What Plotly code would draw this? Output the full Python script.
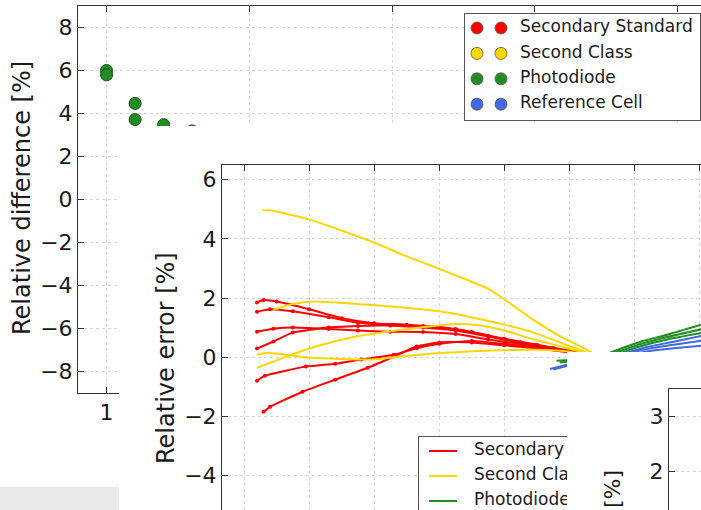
import plotly.graph_objects as go

W, H = 701, 510
FONT = "DejaVu Sans"
INK = "#1a1a1a"
AXIS = "#333333"
GRID = "#d6d6d6"


def fx(px):
    return px / W


def fy(py):
    return 1 - py / H


# ---------------- data ----------------
series_names = ["Secondary Standard", "Second Class", "Photodiode", "Reference Cell"]
series_colors = ["#ff0000", "#ffd700", "#228b22", "#4169e1"]

# relative difference of the photodiode readings
diff_x = [1.0, 1.0, 1.2, 1.2, 1.4, 1.6]
diff_y = [6.0, 5.8, 4.47, 3.72, 3.48, 3.19]

# relative error curves, secondary standard instruments
secondary_x = [
    [0.2, 0.3, 0.5, 1.0, 1.5, 2.0, 2.5, 3.0, 3.5, 4.0, 4.5, 5.0, 5.45],
    [0.2, 0.4, 0.75, 1.3, 1.75, 2.25, 2.75, 3.25, 3.75, 4.25, 4.75, 5.45],
    [0.2, 0.45, 0.75, 1.3, 1.75, 2.25, 2.75, 3.25, 3.75, 4.25, 4.75, 5.45],
    [0.2, 0.45, 0.75, 1.3, 1.75, 2.25, 2.75, 3.25, 3.75, 4.25, 4.75, 5.45],
    [0.2, 0.32, 0.95, 1.4, 1.8, 2.3, 2.65, 3.0, 3.5, 4.0, 4.5, 5.0, 5.45],
    [0.3, 0.4, 0.9, 1.4, 1.9, 2.3, 2.65, 3.0, 3.5, 4.0, 4.5, 5.0, 5.45],
]
secondary_y = [
    [1.85, 1.93, 1.88, 1.62, 1.32, 1.15, 1.10, 1.0, 0.85, 0.62, 0.42, 0.22, 0.0],
    [1.54, 1.62, 1.55, 1.35, 1.17, 1.07, 1.0, 0.9, 0.7, 0.5, 0.3, 0.0],
    [0.86, 0.96, 1.0, 0.95, 0.9, 0.86, 0.85, 0.78, 0.6, 0.45, 0.28, 0.0],
    [0.29, 0.53, 0.83, 1.0, 1.05, 1.08, 1.05, 0.95, 0.72, 0.5, 0.3, 0.0],
    [-0.8, -0.63, -0.32, -0.22, -0.08, 0.08, 0.3, 0.45, 0.55, 0.45, 0.33, 0.2, 0.0],
    [-1.85, -1.68, -1.17, -0.76, -0.36, 0.02, 0.36, 0.5, 0.5, 0.4, 0.3, 0.15, 0.0],
]

# second class instruments
second_x = [
    [0.28, 0.4, 1.0, 2.0, 2.45, 3.1, 3.77, 4.44, 4.86, 5.27, 5.45],
    [0.45, 0.75, 1.1, 1.85, 2.6, 3.0, 3.45, 4.0, 4.45, 4.95, 5.45],
    [0.2, 0.65, 1.1, 1.7, 2.25, 2.7, 3.25, 3.6, 3.95, 4.45, 4.95, 5.45],
    [0.2, 0.35, 0.95, 1.5, 2.0, 2.4, 2.9, 3.45, 4.45, 4.95, 5.45],
]
second_y = [
    [4.97, 4.97, 4.66, 3.88, 3.45, 2.9, 2.29, 1.27, 0.7, 0.25, 0.0],
    [1.6, 1.8, 1.88, 1.78, 1.65, 1.55, 1.37, 1.1, 0.83, 0.42, 0.0],
    [-0.36, 0.02, 0.36, 0.69, 0.88, 1.0, 1.12, 1.08, 0.93, 0.6, 0.32, 0.0],
    [0.08, 0.15, 0.0, -0.06, -0.08, 0.02, 0.12, 0.19, 0.25, 0.2, 0.0],
]

# photodiodes
photodiode_x = [
    [4.8, 5.45, 5.67, 6.1, 6.5, 7.1],
    [4.85, 5.45, 5.7, 6.1, 6.5, 7.1],
    [4.9, 5.45, 5.75, 6.1, 6.5, 7.1],
]
photodiode_y = [
    [-0.12, 0.0, 0.19, 0.53, 0.76, 1.15],
    [-0.18, 0.0, 0.15, 0.45, 0.68, 0.98],
    [-0.15, 0.0, 0.12, 0.38, 0.6, 0.85],
]

# reference cells
refcell_x = [
    [4.7, 5.45, 5.8, 6.2, 6.6, 7.1],
    [4.75, 5.45, 5.8, 6.2, 6.6, 7.1],
    [4.8, 5.45, 5.85, 6.2, 6.6, 7.1],
]
refcell_y = [
    [-0.4, 0.0, 0.1, 0.35, 0.52, 0.75],
    [-0.42, 0.0, 0.08, 0.28, 0.42, 0.58],
    [-0.38, 0.0, 0.05, 0.2, 0.3, 0.4],
]

diff_ticks = [-8, -6, -4, -2, 0, 2, 4, 6, 8]
error_ticks = [-4, -2, 0, 2, 4, 6]
inset_ticks = [2, 3]

# ---------------- figure ----------------
fig = go.Figure()


def empty(ax):
    fig.add_trace(go.Scatter(x=[], y=[], xaxis="x" + ax, yaxis="y" + ax,
                             showlegend=False, hoverinfo="skip"))


# 1: page base
empty("")

# 2: relative difference panel
fig.add_trace(go.Scatter(
    x=diff_x, y=diff_y, mode="markers", xaxis="x2", yaxis="y2", showlegend=False,
    marker=dict(size=12, color=series_colors[2], line=dict(color="#145214", width=1)),
))

# 3: legend box of the relative difference panel (two markers per entry)
row_h = 25.4
for i, (name, col) in enumerate(zip(series_names, series_colors)):
    ry = 14 + row_h * i
    fig.add_trace(go.Scatter(
        x=[12, 36], y=[ry, ry], mode="markers", xaxis="x3", yaxis="y3", showlegend=False,
        marker=dict(size=12, color=col, line=dict(color="#555555", width=0.8)),
    ))
    fig.add_trace(go.Scatter(
        x=[55], y=[ry], mode="text", text=[name], textposition="middle right",
        textfont=dict(family=FONT, size=17, color=INK),
        xaxis="x3", yaxis="y3", showlegend=False,
    ))

# 4: sheet carrying the relative error panel
empty("4")

# 5: relative error panel
groups = [
    (secondary_x, secondary_y, series_colors[0], True),
    (second_x, second_y, series_colors[1], False),
    (photodiode_x, photodiode_y, series_colors[2], False),
    (refcell_x, refcell_y, series_colors[3], False),
]
for xs, ys, col, dots in groups:
    for cx, cy in zip(xs, ys):
        fig.add_trace(go.Scatter(
            x=cx, y=cy, mode="lines+markers" if dots else "lines",
            xaxis="x5", yaxis="y5", showlegend=False,
            line=dict(color=col, width=2, shape="spline", smoothing=0.5),
            marker=dict(size=4, color=col),
        ))

# 6: legend box of the relative error panel (only the rows that fit the box)
legend2_rows = 3
for i, (name, col) in enumerate(zip(series_names[:legend2_rows],
                                    series_colors[:legend2_rows])):
    ry = 14 + 25 * i
    fig.add_trace(go.Scatter(
        x=[10, 38], y=[ry, ry], mode="lines", xaxis="x6", yaxis="y6", showlegend=False,
        line=dict(color=col, width=2),
    ))
    fig.add_trace(go.Scatter(
        x=[55], y=[ry], mode="text", text=[name], textposition="middle right",
        textfont=dict(family=FONT, size=17, color=INK),
        xaxis="x6", yaxis="y6", showlegend=False,
    ))

# 7: sheet carrying the inset panel
empty("7")

# 8: inset panel
empty("8")

hidden = dict(visible=False, range=[0, 1], fixedrange=True)
tickfont = dict(family=FONT, size=22, color=INK)
common = dict(showline=True, linecolor=AXIS, linewidth=1, ticks="inside", ticklen=6,
              tickcolor=AXIS, zeroline=False, gridcolor=GRID, griddash="dot",
              gridwidth=1, tickfont=tickfont)

fig.update_layout(
    width=W, height=H, margin=dict(l=0, r=0, t=0, b=0),
    paper_bgcolor="white", plot_bgcolor="white", showlegend=False,
    font=dict(family=FONT, color=INK),
    xaxis=dict(domain=[0, 1], **hidden),
    yaxis=dict(domain=[0, 1], **hidden),
    # relative difference panel
    xaxis2=dict(domain=[fx(78), 1], range=[0.8, 0.8 + 623 / 142.75], anchor="y2",
                tickvals=[1, 2, 3, 4, 5], mirror="ticks", showgrid=True, **common),
    yaxis2=dict(domain=[fy(393), fy(6)], range=[-9, 9], anchor="x2",
                tickvals=diff_ticks, mirror=False, showgrid=True, **common),
    # legend box
    xaxis3=dict(domain=[fx(465), fx(700)], range=[0, 235], anchor="y3", showline=True,
                mirror=True, linecolor="#555555", linewidth=1, showgrid=False,
                zeroline=False, showticklabels=False, ticks="", fixedrange=True),
    yaxis3=dict(domain=[fy(120), fy(14)], range=[106, 0], anchor="x3", showline=True,
                mirror=True, linecolor="#555555", linewidth=1, showgrid=False,
                zeroline=False, showticklabels=False, ticks="", fixedrange=True),
    xaxis4=dict(domain=[fx(119), 1], anchor="y4", **hidden),
    yaxis4=dict(domain=[0, fy(126)], anchor="x4", **hidden),
    # relative error panel
    xaxis5=dict(domain=[fx(222), 1], range=[-22 / 65.1, 457 / 65.1], anchor="y5",
                side="top", dtick=1, tick0=0, showticklabels=False, mirror=False,
                showgrid=True, **common),
    yaxis5=dict(domain=[0, fy(165)], range=[-5.17, 6.5], anchor="x5",
                tickvals=error_ticks, mirror=False, showgrid=True, **common),
    # legend box
    xaxis6=dict(domain=[fx(419), fx(680)], range=[0, 261], anchor="y6", side="top",
                showline=True, mirror=False, linecolor="#555555", linewidth=1,
                showgrid=False, zeroline=False, showticklabels=False, ticks="",
                fixedrange=True),
    yaxis6=dict(domain=[0, fy(437)], range=[73, 0], anchor="x6", showline=True,
                mirror=True, linecolor="#555555", linewidth=1, showgrid=False,
                zeroline=False, showticklabels=False, ticks="", fixedrange=True),
    xaxis7=dict(domain=[fx(567), 1], anchor="y7", **hidden),
    yaxis7=dict(domain=[0, fy(352)], anchor="x7", **hidden),
    # inset panel
    xaxis8=dict(domain=[fx(669), 1], range=[0, 1], anchor="y8", side="top",
                showline=True, linecolor=AXIS, linewidth=1, ticks="",
                showticklabels=False, showgrid=False, zeroline=False),
    yaxis8=dict(domain=[0, fy(389)], range=[1.3, 3.5], anchor="x8",
                tickvals=inset_ticks, mirror=False, showgrid=True, **common),
)

title_font = dict(family=FONT, size=24, color=INK)
fig.add_annotation(text="Relative difference [%]", textangle=-90, showarrow=False,
                   xref="paper", yref="paper", x=fx(22), y=fy(198),
                   xanchor="center", yanchor="middle", font=title_font)
fig.add_annotation(text="Relative error [%]", textangle=-90, showarrow=False,
                   xref="paper", yref="paper", x=fx(166), y=fy(358),
                   xanchor="center", yanchor="middle", font=title_font)
fig.add_annotation(text="[%]", textangle=-90, showarrow=False,
                   xref="paper", yref="paper", x=fx(612), y=fy(489),
                   xanchor="center", yanchor="middle",
                   font=dict(family=FONT, size=22, color=INK))

# grey strip in the lower left corner
fig.add_shape(type="rect", xref="paper", yref="paper", x0=0, x1=fx(119),
              y0=0, y1=fy(487), fillcolor="#e9e9e9", line=dict(width=0), layer="above")

fig.write_html("out.html")
